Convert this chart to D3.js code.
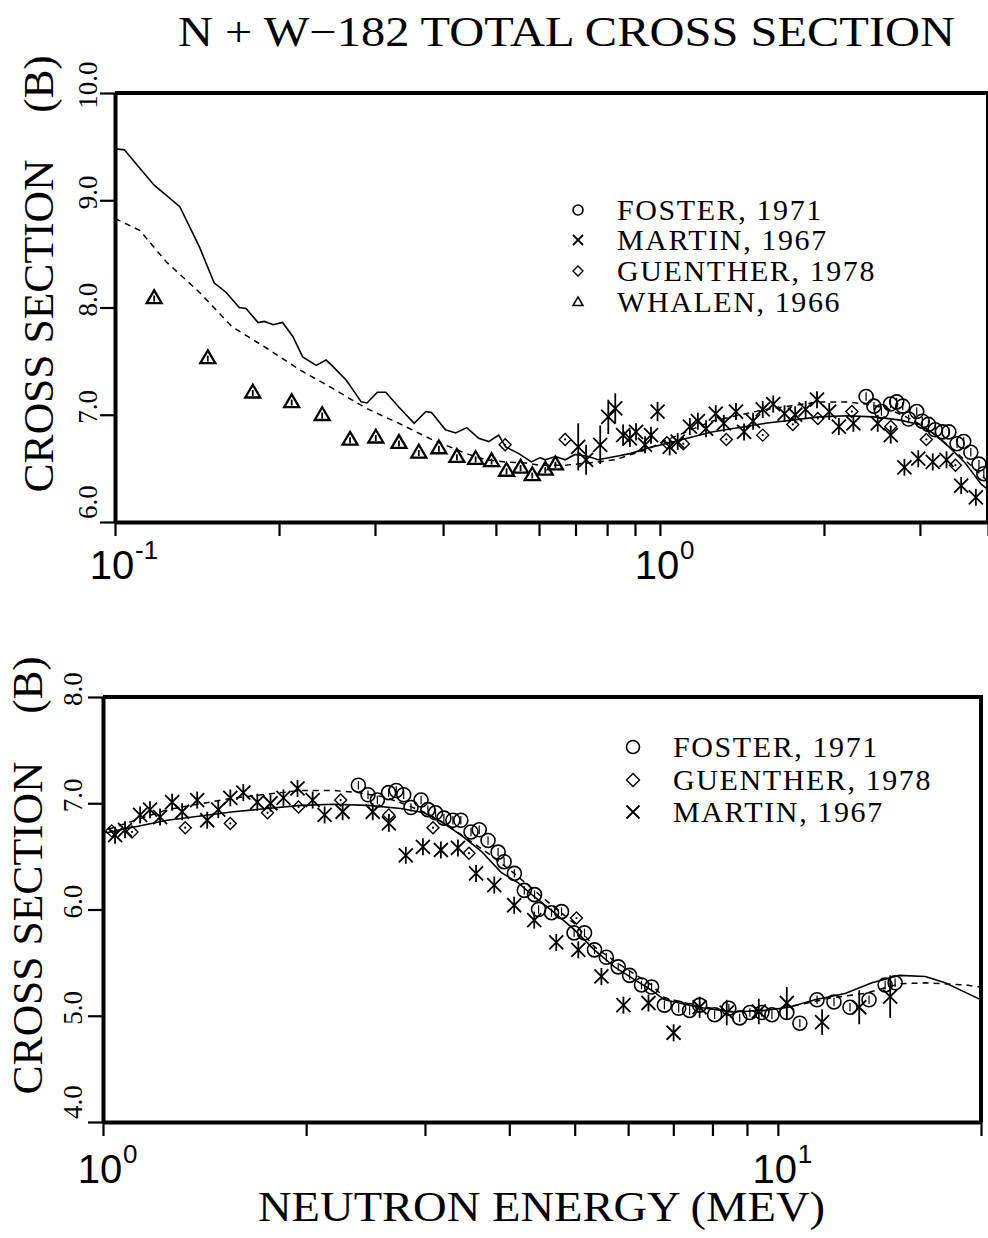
<!DOCTYPE html>
<html lang="en">
<head>
<meta charset="UTF-8">
<title>N + W-182 Total Cross Section</title>
<script src="https://d3js.org/d3.v7.min.js"></script>
<style>
    body { margin: 0; background: #fff; }
    svg { display: block; background: #fff; }
    .serif { font-family: "Liberation Serif", "Times New Roman", serif; fill: #000; }
    .sans { font-family: "Liberation Sans", Arial, sans-serif; fill: #000; }
</style>
</head>
<body>
<svg width="988" height="1238"></svg>
<script>
// ---- data: [energy MeV, cross section b] ----
const solidCurve = [
    [0.1, 9.48], [0.104, 9.47], [0.118, 9.14], [0.1315, 8.94], [0.143, 8.56], [0.152, 8.23],
    [0.160, 8.14], [0.169, 8.0], [0.174, 7.99], [0.183, 7.86], [0.188, 7.87], [0.195, 7.84],
    [0.203, 7.86], [0.212, 7.73], [0.221, 7.54], [0.234, 7.46], [0.244, 7.51], [0.250, 7.46],
    [0.266, 7.32], [0.283, 7.12], [0.290, 7.11], [0.303, 7.21], [0.314, 7.21], [0.332, 7.07],
    [0.354, 6.92], [0.372, 7.03], [0.381, 7.02], [0.404, 6.86], [0.422, 6.83], [0.442, 6.88],
    [0.465, 6.78], [0.485, 6.75], [0.506, 6.81], [0.521, 6.70], [0.550, 6.64], [0.581, 6.56],
    [0.603, 6.60], [0.616, 6.58], [0.643, 6.61], [0.670, 6.58], [0.699, 6.63], [0.739, 6.61],
    [0.770, 6.58], [0.828, 6.61], [0.885, 6.64], [0.951, 6.69], [1.024, 6.73], [1.245, 6.84],
    [1.561, 6.92], [1.962, 6.98], [2.197, 6.99], [2.468, 6.98], [2.763, 6.95], [2.989, 6.91],
    [3.167, 6.83], [3.392, 6.70], [3.633, 6.55], [3.89, 6.35], [4.124, 6.25], [4.355, 6.12],
    [4.665, 5.97], [4.993, 5.81], [5.346, 5.62], [5.726, 5.46], [6.132, 5.34], [6.498, 5.24],
    [6.794, 5.15], [7.63, 5.08], [8.546, 5.035], [9.565, 5.05], [10.38, 5.08], [11.35, 5.15],
    [12.58, 5.21], [13.79, 5.31], [15.13, 5.38], [16.54, 5.37], [17.7, 5.31], [18.96, 5.22],
    [20, 5.15]
];
const dashedCurve = [
    [0.1, 8.83], [0.111, 8.72], [0.1245, 8.42], [0.143, 8.14], [0.164, 7.82], [0.19, 7.62],
    [0.218, 7.42], [0.25, 7.25], [0.289, 7.06], [0.332, 6.92], [0.381, 6.77], [0.44, 6.64],
    [0.479, 6.58], [0.521, 6.56], [0.567, 6.55], [0.6, 6.53], [0.67, 6.53], [0.739, 6.55],
    [0.828, 6.58], [0.885, 6.63], [0.951, 6.68], [1.024, 6.76], [1.245, 6.94], [1.561, 7.05],
    [1.962, 7.12], [2.197, 7.12], [2.385, 7.10], [2.606, 7.06], [2.83, 6.98], [3.03, 6.90],
    [3.245, 6.79], [3.475, 6.66], [3.758, 6.51], [4.067, 6.34], [4.355, 6.18], [4.665, 6.02],
    [4.993, 5.87], [5.346, 5.65], [5.804, 5.49], [6.498, 5.29], [6.794, 5.17], [7.63, 5.09],
    [8.55, 5.04], [9.57, 5.05], [10.5, 5.09], [12.03, 5.17], [13.47, 5.21], [15.13, 5.30],
    [16.54, 5.31], [18.96, 5.29], [20, 5.27]
];
const foster = [
    [2.39, 7.17], [2.47, 7.08], [2.55, 7.03], [2.65, 7.10], [2.72, 7.12], [2.79, 7.08],
    [2.86, 6.96], [2.96, 7.03], [3.03, 6.94], [3.11, 6.91], [3.20, 6.86], [3.30, 6.84],
    [3.39, 6.84], [3.51, 6.73], [3.61, 6.75], [3.72, 6.65], [3.85, 6.54], [3.93, 6.45],
    [4.07, 6.34], [4.21, 6.18], [4.36, 6.14], [4.42, 6.00], [4.62, 5.97], [4.78, 5.98],
    [4.99, 5.78], [5.17, 5.78], [5.35, 5.62], [5.57, 5.55], [5.80, 5.46], [6.03, 5.38],
    [6.28, 5.29], [6.50, 5.27], [6.79, 5.10], [7.13, 5.07], [7.40, 5.05], [7.66, 5.10],
    [8.06, 5.01], [8.46, 5.07], [8.78, 4.98], [9.09, 5.03], [9.47, 5.03], [9.80, 5.01],
    [10.31, 5.03], [10.78, 4.93], [11.43, 5.15], [12.11, 5.13], [12.79, 5.08], [13.65, 5.15],
    [14.42, 5.29], [14.92, 5.31]
];
// [energy, cross section, error]
const martin = [
    [0.708, 6.70, 0.22], [0.732, 6.58, 0.14], [0.777, 6.72, 0.18], [0.804, 6.98, 0.16],
    [0.828, 7.06, 0.14], [0.856, 6.81, 0.10], [0.881, 6.78, 0.08], [0.904, 6.84, 0.08],
    [0.939, 6.72, 0.07], [0.963, 6.81, 0.07], [0.99, 7.03, 0.09], [1.042, 6.70, 0.06],
    [1.078, 6.75, 0.06], [1.135, 6.89, 0.06], [1.174, 6.94, 0.06], [1.215, 6.87, 0.06],
    [1.266, 7.01, 0.06], [1.31, 6.92, 0.06], [1.379, 7.03, 0.06], [1.427, 6.84, 0.06],
    [1.482, 6.94, 0.06], [1.544, 7.05, 0.06], [1.614, 7.10, 0.06], [1.693, 7.01, 0.06],
    [1.771, 7.00, 0.06], [1.851, 7.05, 0.06], [1.942, 7.14, 0.06], [2.045, 7.03, 0.06],
    [2.13, 6.89, 0.06], [2.265, 6.92, 0.06], [2.51, 6.92, 0.06], [2.652, 6.81, 0.06],
    [2.81, 6.51, 0.06], [2.979, 6.59, 0.06], [3.167, 6.56, 0.06], [3.357, 6.58, 0.06],
    [3.571, 6.34, 0.06], [3.80, 6.23, 0.06], [4.067, 6.04, 0.06], [4.355, 5.90, 0.06],
    [4.695, 5.69, 0.06], [5.062, 5.62, 0.06], [5.477, 5.37, 0.06], [5.904, 5.10, 0.06],
    [6.431, 5.12, 0.06], [7.007, 4.84, 0.06], [7.657, 5.08, 0.10], [8.40, 5.03, 0.12],
    [9.371, 5.04, 0.12], [10.31, 5.12, 0.15], [11.63, 4.94, 0.12], [13.2, 5.08, 0.16],
    [14.67, 5.18, 0.20]
];
const guenther = [
    [0.52, 6.72], [0.67, 6.77], [1.03, 6.74], [1.104, 6.73], [1.324, 6.77], [1.544, 6.81],
    [1.753, 6.91], [1.949, 6.965], [2.25, 7.03], [2.652, 6.89], [3.083, 6.77], [3.486, 6.53],
    [5.03, 5.92]
];
const whalen = [
    [0.118, 8.09], [0.148, 7.53], [0.179, 7.21], [0.211, 7.12], [0.240, 7.00], [0.270, 6.77],
    [0.301, 6.79], [0.332, 6.74], [0.361, 6.65], [0.393, 6.69], [0.424, 6.61], [0.459, 6.59],
    [0.491, 6.57], [0.523, 6.48], [0.555, 6.51], [0.583, 6.44], [0.616, 6.49], [0.643, 6.54]
];

const titleText = "N + W\u2212182 TOTAL CROSS SECTION";
const yTitle = "CROSS SECTION";
const yUnit = "(B)";
const xTitle = "NEUTRON ENERGY (MEV)";
const topYTicks = [6, 7, 8, 9, 10];
const botYTicks = [4, 5, 6, 7, 8];
const topLegend = [["circle", "FOSTER, 1971"], ["cross", "MARTIN, 1967"], ["diamond", "GUENTHER, 1978"], ["triangle", "WHALEN, 1966"]];
const botLegend = [["circle", "FOSTER, 1971"], ["diamond", "GUENTHER, 1978"], ["cross", "MARTIN, 1967"]];

const svg = d3.select("svg");

// title
svg.append("text").attr("class", "serif")
    .attr("x", 178).attr("y", 46)
    .attr("font-size", 42)
    .attr("textLength", 777).attr("lengthAdjust", "spacingAndGlyphs")
    .text(titleText);

// marker shapes around a scaled centre
function drawMarker(g, type, cx, cy, r, bar) {
    const s = g.append("g").attr("fill", "none").attr("stroke", "#000");
    if (type === "circle") {
        s.append("circle").attr("cx", cx).attr("cy", cy).attr("r", r).attr("stroke-width", 1.6);
        if (bar) s.append("line").attr("x1", cx).attr("x2", cx).attr("y1", cy - r * 0.6).attr("y2", cy + r * 0.6).attr("stroke-width", 1.2);
    } else if (type === "cross") {
        s.append("path").attr("stroke-width", 1.8)
            .attr("d", `M${cx - r},${cy - r}L${cx + r},${cy + r}M${cx - r},${cy + r}L${cx + r},${cy - r}`);
        if (bar) s.append("line").attr("x1", cx).attr("x2", cx).attr("y1", bar[0]).attr("y2", bar[1]).attr("stroke-width", 1.8);
    } else if (type === "diamond") {
        s.append("path").attr("stroke-width", 1.4)
            .attr("d", `M${cx},${cy - r}L${cx + r},${cy}L${cx},${cy + r}L${cx - r},${cy}Z`);
        if (bar) s.append("circle").attr("cx", cx).attr("cy", cy).attr("r", 1.1).attr("fill", "#000").attr("stroke", "none");
    } else if (type === "triangle") {
        s.append("path").attr("stroke-width", bar ? 2.3 : 1.5)
            .attr("d", `M${cx},${cy - r}L${cx + r},${cy + r * 0.7}L${cx - r},${cy + r * 0.7}Z`);
        if (bar) s.append("line").attr("x1", cx).attr("x2", cx).attr("y1", cy - r * 0.3).attr("y2", cy + r * 0.5).attr("stroke-width", 1.8);
    }
}

function drawPanel(p) {
    const x = d3.scaleLog().domain(p.xDomain).range([p.left, p.right]);
    const y = d3.scaleLinear().domain(p.yDomain).range([p.bottom, p.top]);
    const g = svg.append("g");

    svg.append("clipPath").attr("id", "clip-" + p.id).append("rect")
        .attr("x", p.left).attr("y", p.top)
        .attr("width", p.right - p.left).attr("height", p.bottom - p.top);

    const data = g.append("g").attr("clip-path", `url(#clip-${p.id})`);
    const line = d3.line().x(d => x(d[0])).y(d => y(d[1]));

    data.append("path").datum(solidCurve).attr("d", line)
        .attr("fill", "none").attr("stroke", "#000").attr("stroke-width", 1.6);
    data.append("path").datum(dashedCurve).attr("d", line)
        .attr("fill", "none").attr("stroke", "#000").attr("stroke-width", 1.5)
        .attr("stroke-dasharray", "6,5");

    p.series.forEach(([type, rows]) => {
        rows.filter(d => d[0] >= p.xDomain[0] && d[0] <= p.xDomain[1]).forEach(d => {
            let bar = true;
            if (type === "cross") {
                const lo = Math.max(y(d[1] - d[2]), y(d[1]) + 8.5);
                const hi = Math.min(y(d[1] + d[2]), y(d[1]) - 8.5);
                bar = [hi, lo];
            }
            drawMarker(data, type, x(d[0]), y(d[1]), p.markR[type], bar);
        });
    });

    // axes
    const xAxis = d3.axisBottom(x).tickValues(x.ticks()).tickSize(14).tickSizeOuter(0).tickFormat("");
    g.append("g").attr("transform", `translate(0,${p.bottom})`).call(xAxis)
        .call(a => a.select(".domain").attr("stroke-width", 4))
        .call(a => a.selectAll(".tick line").attr("stroke-width", 2.2));
    const yAxis = d3.axisLeft(y).tickValues(p.yTicks).tickSize(15).tickSizeOuter(0).tickFormat("");
    g.append("g").attr("transform", `translate(${p.left},0)`).call(yAxis)
        .call(a => a.select(".domain").attr("stroke-width", 4))
        .call(a => a.selectAll(".tick line").attr("stroke-width", 2.2));

    // frame top and right
    g.append("path")
        .attr("d", `M${p.left},${p.top}H${p.right}V${p.bottom}`)
        .attr("fill", "none").attr("stroke", "#000").attr("stroke-width", 4);

    // y tick labels, rotated
    p.yTicks.forEach((t, i) => {
        const cy = y(t) - (i === 0 ? 20 : 8);
        g.append("text").attr("class", "serif")
            .attr("font-size", 27).attr("text-anchor", "middle")
            .attr("transform", `translate(${p.tickLabelX},${cy}) rotate(-90)`)
            .text(t.toFixed(1));
    });

    // x decade labels
    x.ticks().filter(v => Math.abs(Math.log10(v) - Math.round(Math.log10(v))) < 1e-9).forEach(v => {
        const e = Math.round(Math.log10(v));
        const tx = x(v);
        g.append("text").attr("class", "sans").attr("font-size", 40)
            .attr("text-anchor", "middle").attr("x", tx - 3).attr("y", p.decadeY).text("10");
        g.append("text").attr("class", "sans").attr("font-size", 26)
            .attr("text-anchor", "start").attr("x", tx + 20).attr("y", p.decadeY - 20)
            .text(e < 0 ? "-" + Math.abs(e) : String(e));
    });

    // y title
    g.append("text").attr("class", "serif").attr("font-size", 43).attr("text-anchor", "middle")
        .attr("transform", `translate(${p.titleX},${p.titleY}) rotate(-90)`)
        .attr("textLength", 333).attr("lengthAdjust", "spacingAndGlyphs")
        .text(yTitle);
    g.append("text").attr("class", "serif").attr("font-size", 43).attr("text-anchor", "middle")
        .attr("transform", `translate(${p.titleX},${p.unitY}) rotate(-90)`)
        .text(yUnit);

    // legend
    p.legend.forEach(([type, label], i) => {
        const by = p.legendY[i];
        drawMarker(g, type, p.legendSymX, by - 10, p.legendR, false);
        g.append("text").attr("class", "serif").attr("font-size", 30)
            .attr("letter-spacing", 1.6)
            .attr("x", p.legendTextX).attr("y", by).text(label);
    });
}

drawPanel({
    id: "top", left: 115, right: 988, top: 93, bottom: 522,
    xDomain: [0.1, 4], yDomain: [6, 10], yTicks: topYTicks,
    series: [["triangle", whalen], ["diamond", guenther], ["circle", foster], ["cross", martin]],
    markR: { triangle: 7.5, diamond: 6, circle: 7, cross: 7 },
    tickLabelX: 97, decadeY: 579, titleX: 53, titleY: 326, unitY: 84,
    legend: topLegend, legendY: [220, 250, 281, 312], legendSymX: 578, legendTextX: 617, legendR: 5
});

drawPanel({
    id: "bot", left: 103, right: 981, top: 697, bottom: 1122,
    xDomain: [1, 20], yDomain: [4, 8], yTicks: botYTicks,
    series: [["diamond", guenther], ["circle", foster], ["cross", martin]],
    markR: { triangle: 7.5, diamond: 6, circle: 7, cross: 7 },
    tickLabelX: 82, decadeY: 1183, titleX: 42, titleY: 928, unitY: 685,
    legend: botLegend, legendY: [757, 790, 822], legendSymX: 633, legendTextX: 673, legendR: 6.5
});

// x title
svg.append("text").attr("class", "serif")
    .attr("x", 258).attr("y", 1221).attr("font-size", 42)
    .attr("textLength", 567).attr("lengthAdjust", "spacingAndGlyphs")
    .text(xTitle);
</script>
</body>
</html>
